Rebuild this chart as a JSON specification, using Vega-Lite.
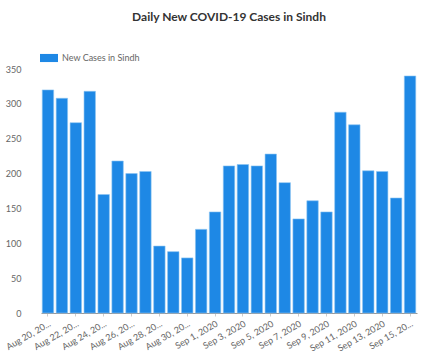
{
  "$schema": "https://vega.github.io/schema/vega-lite/v6.json",
  "autosize": "none",
  "width": 376,
  "height": 244,
  "padding": {"left": 41, "top": 69, "right": 20, "bottom": 42},
  "background": "white",
  "title": {"text": "Daily New COVID-19 Cases in Sindh", "font": "Lato", "fontSize": 12, "fontWeight": "bold", "color": "#333333", "anchor": "middle", "offset": 25},
  "data": {"values": [
    {"date": "Aug 20, 2020", "cases": 320, "series": "New Cases in Sindh"},
    {"date": "Aug 21, 2020", "cases": 308, "series": "New Cases in Sindh"},
    {"date": "Aug 22, 2020", "cases": 273, "series": "New Cases in Sindh"},
    {"date": "Aug 23, 2020", "cases": 318, "series": "New Cases in Sindh"},
    {"date": "Aug 24, 2020", "cases": 170, "series": "New Cases in Sindh"},
    {"date": "Aug 25, 2020", "cases": 218, "series": "New Cases in Sindh"},
    {"date": "Aug 26, 2020", "cases": 200, "series": "New Cases in Sindh"},
    {"date": "Aug 27, 2020", "cases": 203, "series": "New Cases in Sindh"},
    {"date": "Aug 28, 2020", "cases": 96, "series": "New Cases in Sindh"},
    {"date": "Aug 29, 2020", "cases": 88, "series": "New Cases in Sindh"},
    {"date": "Aug 30, 2020", "cases": 79, "series": "New Cases in Sindh"},
    {"date": "Aug 31, 2020", "cases": 120, "series": "New Cases in Sindh"},
    {"date": "Sep 1, 2020", "cases": 145, "series": "New Cases in Sindh"},
    {"date": "Sep 2, 2020", "cases": 211, "series": "New Cases in Sindh"},
    {"date": "Sep 3, 2020", "cases": 213, "series": "New Cases in Sindh"},
    {"date": "Sep 4, 2020", "cases": 211, "series": "New Cases in Sindh"},
    {"date": "Sep 5, 2020", "cases": 228, "series": "New Cases in Sindh"},
    {"date": "Sep 6, 2020", "cases": 187, "series": "New Cases in Sindh"},
    {"date": "Sep 7, 2020", "cases": 135, "series": "New Cases in Sindh"},
    {"date": "Sep 8, 2020", "cases": 161, "series": "New Cases in Sindh"},
    {"date": "Sep 9, 2020", "cases": 145, "series": "New Cases in Sindh"},
    {"date": "Sep 10, 2020", "cases": 288, "series": "New Cases in Sindh"},
    {"date": "Sep 11, 2020", "cases": 270, "series": "New Cases in Sindh"},
    {"date": "Sep 12, 2020", "cases": 204, "series": "New Cases in Sindh"},
    {"date": "Sep 13, 2020", "cases": 203, "series": "New Cases in Sindh"},
    {"date": "Sep 14, 2020", "cases": 165, "series": "New Cases in Sindh"},
    {"date": "Sep 15, 2020", "cases": 340, "series": "New Cases in Sindh"}
  ]},
  "mark": {"type": "bar", "stroke": "#8cc4f2", "strokeWidth": 0.6},
  "encoding": {
    "x": {
      "field": "date", "type": "ordinal", "sort": null,
      "scale": {"paddingInner": 0.18, "paddingOuter": 0.09},
      "axis": {
        "title": null,
        "values": ["Aug 20, 2020", "Aug 22, 2020", "Aug 24, 2020", "Aug 26, 2020", "Aug 28, 2020", "Aug 30, 2020", "Sep 1, 2020", "Sep 3, 2020", "Sep 5, 2020", "Sep 7, 2020", "Sep 9, 2020", "Sep 11, 2020", "Sep 13, 2020", "Sep 15, 2020"],
        "labelExpr": "indexof(datum.value, 'Aug') == 0 || datum.value == 'Sep 15, 2020' ? slice(datum.value, 0, 10) + '...' : datum.value",
        "labelAngle": -30,
        "labelAlign": "right",
        "labelBaseline": "top",
        "labelFont": "Lato",
        "labelFontSize": 9,
        "labelColor": "#666666",
        "labelPadding": 3,
        "ticks": true,
        "tickSize": 3,
        "tickColor": "#cccccc",
        "domainColor": "#999999",
        "labelOverlap": false
      }
    },
    "y": {
      "field": "cases", "type": "quantitative",
      "scale": {"domain": [0, 350]},
      "axis": {
        "title": null,
        "values": [0, 50, 100, 150, 200, 250, 300, 350],
        "grid": false,
        "domain": false,
        "ticks": false,
        "labelFont": "Lato",
        "labelFontSize": 9,
        "labelColor": "#666666",
        "labelPadding": 20
      }
    },
    "color": {
      "field": "series", "type": "nominal",
      "scale": {"range": ["#1E88E5"]},
      "legend": {
        "title": null,
        "orient": "none",
        "legendX": -1,
        "legendY": -20,
        "symbolType": "M-1,-0.45H1V0.45H-1Z",
        "symbolSize": 324,
        "symbolOpacity": 1,
        "symbolStrokeWidth": 0,
        "labelFont": "Lato",
        "labelFontSize": 9,
        "labelColor": "#666666",
        "labelOffset": 4
      }
    }
  },
  "config": {"view": {"stroke": null}}
}
